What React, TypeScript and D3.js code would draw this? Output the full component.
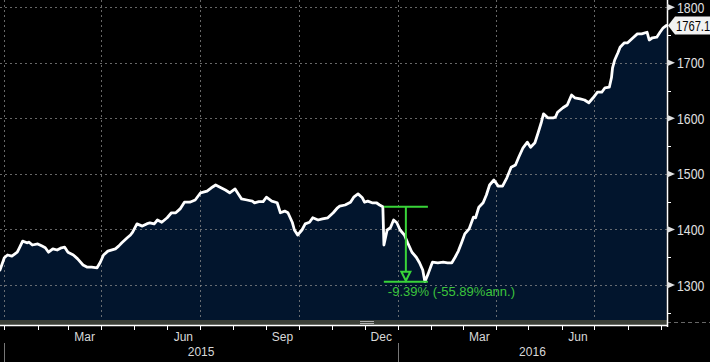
import React from "react";
import * as d3 from "d3";

// index closes (approximate)
const dates2015 = [
  "2014-12-28", "2015-01-01", "2015-01-04", "2015-01-08", "2015-01-13", "2015-01-15", "2015-01-18", "2015-01-22", "2015-01-24", "2015-01-27",
  "2015-02-01", "2015-02-05", "2015-02-08", "2015-02-11", "2015-02-15", "2015-02-19", "2015-02-23", "2015-02-26",
  "2015-03-01", "2015-03-06", "2015-03-10", "2015-03-15", "2015-03-19", "2015-03-23", "2015-03-28", "2015-03-31",
  "2015-04-03", "2015-04-07", "2015-04-14", "2015-04-17", "2015-04-20", "2015-04-25", "2015-04-28", "2015-04-30",
  "2015-05-04", "2015-05-09", "2015-05-13", "2015-05-16", "2015-05-20", "2015-05-23", "2015-05-27",
  "2015-06-01", "2015-06-05", "2015-06-09", "2015-06-13", "2015-06-17", "2015-06-22", "2015-06-27",
  "2015-07-02", "2015-07-08", "2015-07-12", "2015-07-16", "2015-07-20", "2015-07-25", "2015-07-29",
  "2015-08-03", "2015-08-06", "2015-08-09", "2015-08-14", "2015-08-19", "2015-08-21", "2015-08-25", "2015-08-29",
  "2015-09-01", "2015-09-06", "2015-09-11", "2015-09-14", "2015-09-18", "2015-09-21", "2015-09-25", "2015-09-27", "2015-09-30",
  "2015-10-04", "2015-10-07", "2015-10-11", "2015-10-14", "2015-10-19", "2015-10-23", "2015-10-28",
  "2015-11-02", "2015-11-06", "2015-11-08", "2015-11-13", "2015-11-18", "2015-11-21", "2015-11-25", "2015-11-29",
  "2015-12-01", "2015-12-04", "2015-12-08", "2015-12-12", "2015-12-15", "2015-12-18", "2015-12-19", "2015-12-22", "2015-12-25", "2015-12-28", "2015-12-31",
];
const values2015 = [
  1327, 1349, 1354, 1352, 1359, 1367, 1379, 1376, 1377, 1372,
  1374, 1370, 1367, 1359, 1365, 1363, 1367, 1368,
  1359, 1354, 1347, 1336, 1332, 1332, 1331, 1341,
  1354, 1361, 1365, 1370, 1376, 1385, 1390, 1395,
  1410, 1406, 1410, 1412, 1410, 1417, 1413,
  1421, 1430, 1430, 1437, 1449, 1449, 1453,
  1466, 1469, 1475, 1480, 1476, 1471, 1466,
  1473, 1464, 1455, 1453, 1451, 1448, 1450, 1450,
  1458, 1451, 1448, 1430, 1433, 1430, 1413, 1399, 1390,
  1399, 1410, 1413, 1421, 1417, 1419, 1421,
  1430, 1439, 1442, 1444, 1449, 1458, 1464, 1457,
  1449, 1451, 1448, 1448, 1444, 1441, 1372, 1399, 1403, 1417, 1412,
];
const dates2016 = [
  "2016-01-03", "2016-01-07", "2016-01-10", "2016-01-14", "2016-01-18", "2016-01-21", "2016-01-24", "2016-01-26", "2016-01-29",
  "2016-02-01", "2016-02-02", "2016-02-07", "2016-02-12", "2016-02-16", "2016-02-20", "2016-02-23", "2016-02-26", "2016-02-29",
  "2016-03-03", "2016-03-07", "2016-03-11", "2016-03-13", "2016-03-16", "2016-03-20", "2016-03-23", "2016-03-26", "2016-03-30",
  "2016-04-03", "2016-04-07", "2016-04-11", "2016-04-15", "2016-04-19", "2016-04-22", "2016-04-26", "2016-04-30",
  "2016-05-03", "2016-05-07", "2016-05-10", "2016-05-13", "2016-05-15", "2016-05-19", "2016-05-24", "2016-05-26", "2016-05-28",
  "2016-06-02", "2016-06-06", "2016-06-10", "2016-06-13", "2016-06-18", "2016-06-22", "2016-06-26", "2016-06-30",
  "2016-07-04", "2016-07-08", "2016-07-11", "2016-07-15", "2016-07-17", "2016-07-18", "2016-07-20", "2016-07-23", "2016-07-25", "2016-07-29",
  "2016-08-01", "2016-08-06", "2016-08-10", "2016-08-14", "2016-08-19", "2016-08-21", "2016-08-24", "2016-08-28", "2016-08-31",
  "2016-09-03", "2016-09-06",
];
const values2016 = [
  1399, 1390, 1376, 1359, 1350, 1340, 1327, 1306, 1320,
  1336, 1341, 1340, 1341, 1340, 1340, 1350, 1361, 1376,
  1392, 1401, 1422, 1421, 1440, 1448, 1462, 1480, 1489,
  1478, 1478, 1493, 1512, 1516, 1530, 1547, 1557,
  1548, 1556, 1574, 1593, 1608, 1601, 1601, 1602, 1611,
  1619, 1624, 1642, 1637, 1635, 1633, 1628, 1637,
  1647, 1647, 1655, 1656, 1673, 1691, 1705, 1718, 1728, 1736,
  1736, 1745, 1752, 1752, 1755, 1741, 1745, 1746, 1755,
  1763, 1767.1,
];

const yTicks = [1300, 1400, 1500, 1600, 1700, 1800];
const yMinorTicks = [1250, 1350, 1450, 1550, 1650, 1750];
const monthLabels = ["Mar", "Jun", "Sep", "Dec", "Mar", "Jun"];
const monthLabelDates = ["2015-03-01", "2015-06-01", "2015-09-01", "2015-12-01", "2016-03-01", "2016-06-01"];
const yearLabels = ["2015", "2016"];
const yearStarts = ["2015-01-01", "2016-01-01", "2017-01-01"];

// drawdown annotation
const peakDate = "2015-12-18";
const peakValue = 1441;
const troughDate = "2016-01-26";
const troughValue = 1306;
const drawdownText = "-9.39% (-55.89%ann.)";

type Pt = { date: Date; value: number };

const parse = d3.timeParse("%Y-%m-%d");

const App = () => {
  const width = 710;
  const height = 362;
  const plotRight = 667;
  const plotBottom = 320;

  const series: Pt[] = [
    ...dates2015.map((d, i) => ({ date: parse(d)!, value: values2015[i] })),
    ...dates2016.map((d, i) => ({ date: parse(d)!, value: values2016[i] })),
  ];

  const x = d3
    .scaleTime()
    .domain([new Date(2014, 11, 28), new Date(2016, 8, 6, 12)])
    .range([0, plotRight]);
  const y = d3.scaleLinear().domain([1237, 1813]).range([plotBottom, 0]);

  const line = d3
    .line<Pt>()
    .x((d) => x(d.date))
    .y((d) => y(d.value));
  const area = d3
    .area<Pt>()
    .x((d) => x(d.date))
    .y0(plotBottom)
    .y1((d) => y(d.value));

  const months = d3.timeMonth.range(new Date(2015, 0, 1), new Date(2016, 8, 2));
  const quarterLines = months.filter((m) => m.getMonth() % 3 === 0);

  const last = series[series.length - 1];
  const yLast = y(last.value);

  // annotation geometry
  const ax1 = x(parse(peakDate)!) + 1;
  const ax2 = x(parse(troughDate)!) + 3;
  const amid = (ax1 + ax2) / 2;
  const ayTop = y(peakValue);
  const ayBot = y(troughValue);

  const sans = "'Liberation Sans', Arial, sans-serif";
  const green = "#39d439";
  const squeeze = 0.82; // Bloomberg's narrow axis font

  return (
    <svg
      width={width}
      height={height}
      style={{ position: "absolute", left: 0, top: 0, display: "block" }}
    >
      <rect x={0} y={0} width={width} height={height} fill="#000" />

      {/* filled area under the line */}
      <path d={area(series)!} fill="#02152d" />

      {/* grid */}
      <g stroke="#8a8a8a" strokeOpacity={0.75} strokeDasharray="2,3" strokeWidth={1}>
        {yTicks.map((t) => (
          <line key={t} x1={0} x2={plotRight} y1={Math.round(y(t)) + 0.5} y2={Math.round(y(t)) + 0.5} />
        ))}
        {quarterLines.map((m) => (
          <line key={+m} x1={Math.round(x(m)) + 0.5} x2={Math.round(x(m)) + 0.5} y1={0} y2={plotBottom} />
        ))}
      </g>

      {/* price line */}
      <path
        d={line(series)!}
        fill="none"
        stroke="#fff"
        strokeWidth={2.8}
        strokeLinejoin="round"
        strokeLinecap="round"
      />

      {/* drawdown annotation */}
      <g stroke={green} strokeWidth={2} fill="none">
        <line x1={ax1} x2={ax2} y1={ayTop} y2={ayTop} />
        <line x1={ax1} x2={ax2} y1={ayBot} y2={ayBot} />
        <line x1={amid} x2={amid} y1={ayTop} y2={ayBot - 10} />
        <path d={`M${amid - 4.5},${ayBot - 10}L${amid + 4.5},${ayBot - 10}L${amid},${ayBot - 1}Z`} />
      </g>
      <text x={ax1 + 4} y={ayBot + 14} fill="#3cc43c" fontSize={13} fontFamily={sans}>
        {drawdownText}
      </text>

      {/* scroll band under plot */}
      <rect x={0} y={plotBottom} width={plotRight} height={5} fill="#3b3f37" />
      <line x1={plotRight} x2={width} y1={322.5} y2={322.5} stroke="#666" strokeDasharray="4,3" />
      <g stroke="#b0b0b0" strokeWidth={1}>
        <line x1={360} x2={374} y1={321.5} y2={321.5} />
        <line x1={360} x2={374} y1={323.5} y2={323.5} />
      </g>

      {/* x axis */}
      <line x1={0} x2={plotRight} y1={325.5} y2={325.5} stroke="#fff" strokeWidth={1.5} />
      <g stroke="#fff" strokeWidth={1}>
        {months.map((m) => (
          <line key={+m} x1={Math.round(x(m)) + 0.5} x2={Math.round(x(m)) + 0.5} y1={326} y2={330} />
        ))}
      </g>
      <g fill="#d8d8d8" fontSize={12} fontFamily={sans} textAnchor="middle">
        {monthLabels.map((l, i) => {
          const s = parse(monthLabelDates[i])!;
          const e = d3.timeMonth.offset(s, 1);
          return (
            <text key={i} x={(x(s) + x(e)) / 2} y={341}>
              {l}
            </text>
          );
        })}
        {yearLabels.map((l, i) => {
          const s = x(parse(yearStarts[i])!);
          const e = Math.min(plotRight, x(parse(yearStarts[i + 1])!));
          return (
            <text key={l} x={(s + e) / 2} y={356}>
              {l}
            </text>
          );
        })}
      </g>
      <g stroke="#777" strokeWidth={1}>
        {yearStarts.slice(0, 2).map((d) => {
          const xx = Math.round(x(parse(d)!)) + 0.5;
          return <line key={d} x1={xx} x2={xx} y1={343} y2={362} />;
        })}
      </g>

      {/* right axis */}
      <line x1={plotRight + 0.5} x2={plotRight + 0.5} y1={0} y2={327} stroke="#fff" strokeWidth={1.5} />
      <g stroke="#fff" strokeWidth={1}>
        {yMinorTicks.map((t) => (
          <line key={t} x1={plotRight} x2={plotRight + 4} y1={Math.round(y(t)) + 0.5} y2={Math.round(y(t)) + 0.5} />
        ))}
      </g>
      {yTicks.map((t) => (
        <g key={t}>
          <path d={`M${plotRight},${y(t) - 3.5}L${plotRight + 8},${y(t)}L${plotRight},${y(t) + 3.5}Z`} fill="#e0e0e0" />
          <text
            transform={`translate(${plotRight + 10},${y(t) + 5.5}) scale(${squeeze},1)`}
            fill="#e0e0e0"
            fontSize={15}
            fontFamily={sans}
          >
            {t}
          </text>
        </g>
      ))}

      {/* last value tag */}
      <path
        d={`M${plotRight + 1},${yLast}L${plotRight + 8},${yLast - 9}L${width + 2},${yLast - 9}L${width + 2},${yLast + 9}L${plotRight + 8},${yLast + 9}Z`}
        fill="#f2f2f2"
      />
      <text
        transform={`translate(${plotRight + 9},${yLast + 5.5}) scale(0.8,1)`}
        fill="#000"
        fontSize={14}
        fontFamily={sans}
      >
        {last.value.toFixed(1)}
      </text>
    </svg>
  );
};

export default App;
